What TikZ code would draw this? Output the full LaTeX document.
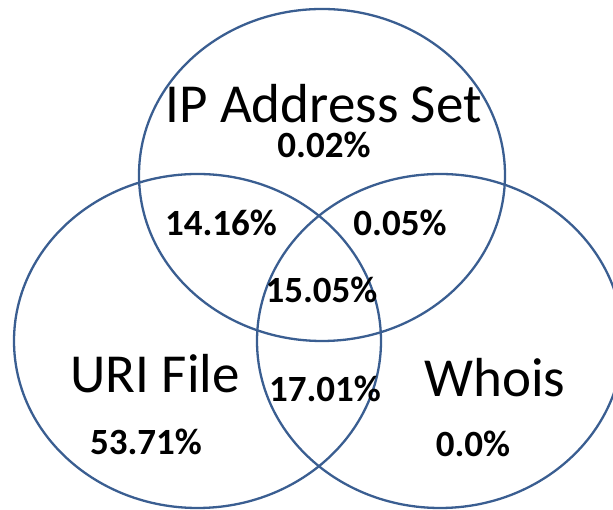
\documentclass[tikz,border=0pt]{standalone}
\usepackage{fontspec}
\setmainfont{Carlito}
\definecolor{setline}{RGB}{58,94,145}
\tikzset{
  setring/.style={draw=setline, line width=2.3pt},
  setname/.style={anchor=base, inner sep=0pt, text depth=0pt, font=\fontsize{55}{60}\selectfont},
  share/.style={anchor=base, inner sep=0pt, text height=25pt, font=\bfseries\fontsize{37}{42}\selectfont},
}
\begin{document}
\begin{tikzpicture}[x=1pt,y=1pt]
  \useasboundingbox (0,0) rectangle (613,510);
  \clip (0,0) rectangle (613,510);
  % the three sets
  \draw[setring] (322,335) ellipse [x radius=183, y radius=166];
  \draw[setring] (197.5,169) ellipse [x radius=183.5, y radius=167];
  \draw[setring] (440,169) ellipse [x radius=183, y radius=167];
  % set names
  \node[setname] (ip)    at (323.5,387) {IP Address Set};
  \node[setname] (uri)   at (155,117)   {URI File};
  \node[setname] (whois) at (495,113)   {Whois};
  % region shares
  \node[share] (onlyip)    at (324,352)   {0.02\%};
  \node[share] (ipuri)     at (221,274)   {14.16\%};
  \node[share] (ipwhois)   at (400,274)   {0.05\%};
  \node[share] (all)       at (321.5,207) {15.05\%};
  \node[share] (uriwhois)  at (325,108)   {17.01\%};
  \node[share] (onlyuri)   at (146,55)    {53.71\%};
  \node[share] (onlywhois) at (473,53)    {0.0\%};
\end{tikzpicture}
\end{document}
